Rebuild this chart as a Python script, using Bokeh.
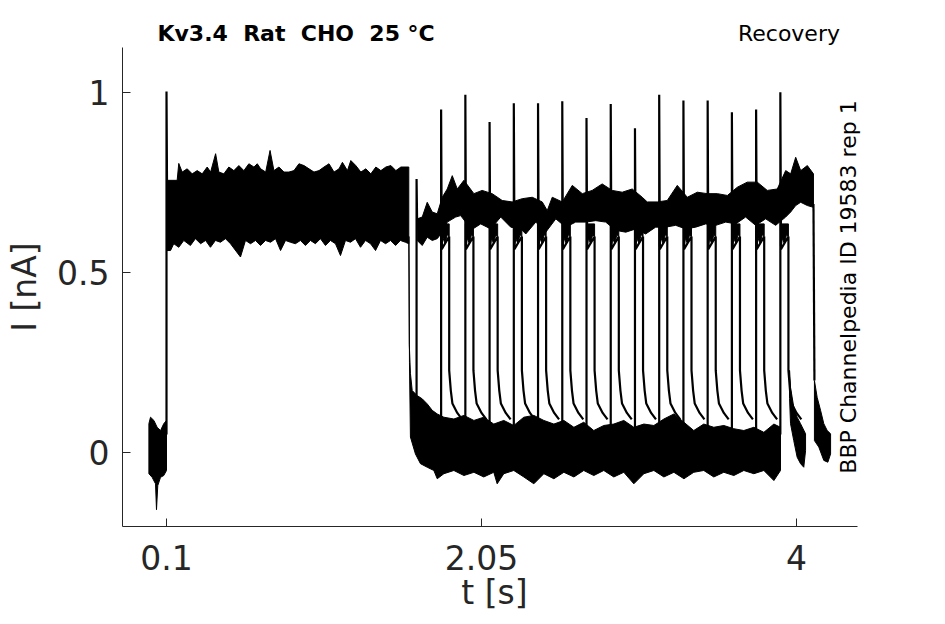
from math import pi
from bokeh.plotting import figure
from bokeh.layouts import column
from bokeh.models import (Range1d, FixedTicker, Label, ColumnDataSource,
                          CustomJSTickFormatter)
from bokeh.embed import file_html
from bokeh.resources import INLINE

# ---------------- data (t in s, I in nA) ----------------
x_ticks = [0.1, 2.05, 4.0]
y_ticks = [0.0, 0.5, 1.0]

title_text = "Kv3.4 \u00a0Rat \u00a0CHO \u00a025 °C"
protocol_text = "Recovery"
source_text = "BBP Channelpedia ID 19583 rep 1"

# holding current before the first pulse (noise envelope)
pre_t_top = [-0.009, 0.001, 0.022, 0.042, 0.063, 0.083, 0.100]
pre_i_top = [0.080, 0.098, 0.089, 0.070, 0.061, 0.080, 0.089]
pre_t_bot = [-0.009, 0.011, 0.032, 0.038, 0.046, 0.063, 0.083, 0.100]
pre_i_bot = [-0.059, -0.069, -0.087, -0.159, -0.092, -0.069, -0.064, -0.050]

# first pulse (0.1 - 1.6 s) noise envelope
p1_t_top = [0.100, 0.166, 0.176, 0.197, 0.228, 0.259, 0.290, 0.321, 0.352, 0.373,
            0.404, 0.424, 0.455, 0.486, 0.517, 0.548, 0.579, 0.610, 0.641, 0.662,
            0.683, 0.714, 0.741, 0.765, 0.796, 0.827, 0.858, 0.889, 0.920, 0.951,
            0.982, 1.013, 1.044, 1.075, 1.106, 1.137, 1.168, 1.189, 1.220, 1.241,
            1.272, 1.303, 1.334, 1.365, 1.396, 1.427, 1.458, 1.489, 1.520, 1.551,
            1.600]
p1_i_top = [0.756, 0.756, 0.803, 0.779, 0.788, 0.774, 0.783, 0.774, 0.793, 0.779,
            0.830, 0.779, 0.774, 0.793, 0.783, 0.797, 0.783, 0.802, 0.793, 0.802,
            0.788, 0.779, 0.839, 0.783, 0.793, 0.779, 0.779, 0.783, 0.802, 0.797,
            0.788, 0.779, 0.783, 0.793, 0.802, 0.779, 0.788, 0.806, 0.783, 0.811,
            0.797, 0.779, 0.788, 0.774, 0.793, 0.783, 0.793, 0.797, 0.783, 0.793,
            0.793]
p1_t_bot = [0.100, 0.125, 0.145, 0.176, 0.207, 0.248, 0.279, 0.311, 0.342, 0.372,
            0.403, 0.434, 0.465, 0.496, 0.558, 0.589, 0.620, 0.651, 0.682, 0.713,
            0.744, 0.775, 0.806, 0.837, 0.867, 0.898, 0.929, 0.960, 0.991, 1.022,
            1.053, 1.084, 1.115, 1.146, 1.177, 1.208, 1.239, 1.270, 1.301, 1.332,
            1.363, 1.394, 1.425, 1.456, 1.487, 1.518, 1.548, 1.579, 1.600]
p1_i_bot = [0.561, 0.561, 0.580, 0.570, 0.589, 0.575, 0.594, 0.580, 0.589, 0.570,
            0.589, 0.584, 0.594, 0.580, 0.543, 0.589, 0.580, 0.589, 0.575, 0.589,
            0.584, 0.594, 0.561, 0.589, 0.584, 0.580, 0.589, 0.575, 0.589, 0.580,
            0.594, 0.575, 0.589, 0.580, 0.547, 0.589, 0.584, 0.594, 0.570, 0.589,
            0.580, 0.561, 0.589, 0.580, 0.589, 0.575, 0.589, 0.584, 0.580]

# sustained second pulse (1.65 - 4.1 s) noise envelope
up_t_top = [1.652, 1.683, 1.714, 1.745, 1.776, 1.807, 1.838, 1.869, 1.900, 1.941,
            2.003, 2.054, 2.116, 2.178, 2.240, 2.302, 2.364, 2.426, 2.457, 2.488,
            2.550, 2.612, 2.674, 2.735, 2.797, 2.859, 2.921, 2.983, 3.045, 3.076,
            3.138, 3.200, 3.262, 3.324, 3.386, 3.448, 3.510, 3.572, 3.634, 3.695,
            3.757, 3.819, 3.881, 3.933, 3.964, 3.995, 4.026, 4.067, 4.105]
up_i_top = [0.649, 0.654, 0.695, 0.668, 0.663, 0.709, 0.732, 0.769, 0.732, 0.756,
            0.719, 0.728, 0.719, 0.700, 0.696, 0.705, 0.709, 0.696, 0.672, 0.709,
            0.696, 0.742, 0.719, 0.728, 0.746, 0.728, 0.723, 0.732, 0.709, 0.696,
            0.696, 0.700, 0.742, 0.709, 0.723, 0.719, 0.719, 0.714, 0.737, 0.751,
            0.751, 0.728, 0.732, 0.783, 0.774, 0.820, 0.783, 0.797, 0.774]
up_t_bot = [1.652, 1.683, 1.714, 1.745, 1.776, 1.807, 1.838, 1.890, 1.921, 1.952,
            1.983, 2.045, 2.107, 2.169, 2.231, 2.293, 2.324, 2.386, 2.448, 2.510,
            2.571, 2.633, 2.695, 2.757, 2.819, 2.881, 2.943, 3.005, 3.066, 3.128,
            3.190, 3.252, 3.314, 3.376, 3.438, 3.500, 3.562, 3.624, 3.685, 3.747,
            3.809, 3.871, 3.933, 3.964, 3.995, 4.026, 4.067, 4.105]
up_i_bot = [0.589, 0.575, 0.598, 0.589, 0.594, 0.612, 0.640, 0.654, 0.658, 0.640,
            0.617, 0.635, 0.621, 0.654, 0.626, 0.621, 0.607, 0.640, 0.612, 0.649,
            0.626, 0.640, 0.640, 0.644, 0.640, 0.617, 0.612, 0.621, 0.607, 0.626,
            0.626, 0.631, 0.621, 0.626, 0.635, 0.631, 0.640, 0.635, 0.654, 0.631,
            0.649, 0.631, 0.654, 0.668, 0.686, 0.695, 0.686, 0.681]

# recovery interval at holding potential (1.6 - 3.9 s) noise envelope
lo_t_top = [1.600, 1.603, 1.610, 1.621, 1.652, 1.683, 1.714, 1.745, 1.776, 1.817,
            1.879, 1.941, 2.003, 2.064, 2.126, 2.188, 2.250, 2.312, 2.374, 2.436,
            2.498, 2.560, 2.622, 2.683, 2.745, 2.807, 2.869, 2.931, 2.993, 3.055,
            3.117, 3.179, 3.241, 3.303, 3.364, 3.426, 3.488, 3.550, 3.612, 3.674,
            3.736, 3.798, 3.860, 3.901]
lo_i_top = [0.600, 0.300, 0.220, 0.172, 0.158, 0.149, 0.135, 0.117, 0.107, 0.098,
            0.093, 0.103, 0.089, 0.098, 0.079, 0.089, 0.075, 0.098, 0.103, 0.089,
            0.079, 0.089, 0.070, 0.084, 0.061, 0.075, 0.079, 0.089, 0.070, 0.079,
            0.075, 0.093, 0.107, 0.084, 0.061, 0.079, 0.070, 0.075, 0.066, 0.061,
            0.070, 0.056, 0.079, 0.070]
lo_t_bot = [1.601, 1.604, 1.610, 1.641, 1.672, 1.714, 1.755, 1.776, 1.817, 1.879,
            1.941, 2.003, 2.064, 2.126, 2.147, 2.188, 2.250, 2.312, 2.374, 2.436,
            2.498, 2.560, 2.622, 2.683, 2.745, 2.807, 2.869, 2.931, 2.993, 3.055,
            3.117, 3.179, 3.241, 3.303, 3.364, 3.426, 3.488, 3.550, 3.612, 3.674,
            3.736, 3.798, 3.860, 3.901]
lo_i_bot = [0.600, 0.250, 0.043, -0.004, -0.031, -0.041, -0.050, -0.073, -0.059, -0.050,
            -0.064, -0.055, -0.068, -0.055, -0.087, -0.059, -0.050, -0.068, -0.087, -0.059,
            -0.073, -0.055, -0.068, -0.050, -0.064, -0.050, -0.068, -0.055, -0.087, -0.059,
            -0.050, -0.068, -0.055, -0.073, -0.055, -0.050, -0.068, -0.055, -0.064, -0.050,
            -0.059, -0.050, -0.078, -0.050]

# tail of the last test pulse
last_t_top = [3.957, 3.963, 3.983, 4.004, 4.025, 4.056]
last_i_top = [0.228, 0.181, 0.126, 0.098, 0.080, 0.052]
last_t_bot = [3.957, 3.963, 3.983, 4.004, 4.025, 4.045, 4.056]
last_i_bot = [0.150, 0.080, 0.033, -0.013, -0.031, -0.041, 0.005]

# tail after the sustained pulse ends
end_t_top = [4.111, 4.128, 4.149, 4.169, 4.190, 4.211]
end_i_top = [0.200, 0.153, 0.117, 0.080, 0.061, 0.052]
end_t_bot = [4.111, 4.138, 4.169, 4.194, 4.211]
end_i_bot = [0.033, 0.015, -0.022, -0.027, -0.004]

# capacitive peaks
first_peak_t = 0.100
first_peak_i = 1.003
sustained_on_t = 1.648
sustained_on_peak = 0.760
sustained_off_t = 4.105
sustained_off_i = [0.690, 0.200]

# short test pulses: onset and peak
pulse_t = [1.80, 1.95, 2.10, 2.25, 2.40, 2.55, 2.70, 2.85, 3.00, 3.15, 3.30, 3.45, 3.60, 3.75, 3.90]
pulse_peak = [0.953, 0.994, 0.918, 0.970, 0.970, 0.976, 0.929, 0.968, 0.901, 0.994,
              0.978, 0.978, 0.945, 0.953, 1.001]
pulse_width = 0.05
plateau_dt = [0.0, 0.004, 0.012, 0.025, 0.038, 0.050]
plateau_lo = [0.575, 0.565, 0.595, 0.580, 0.605, 0.600]
plateau_hi = 0.635
tail_dt = [0.0, 0.010, 0.020, 0.050, 0.080]
tail_i = [0.228, 0.172, 0.136, 0.110, 0.092]
rest_i = 0.05

# ---------------- layout ----------------
X0, X1 = -0.1724, 4.3776      # time span covered by the x axis
X_FRAME_END = 4.4333          # plot area reaches a little further right (side note)
Y0, Y1 = -0.2056, 1.125       # current span covered by the y axis
HEAD_TOP = 1.2556             # current value at the top edge of the header strip

xr = Range1d(X0, X_FRAME_END)

# header strip holding the title line (same horizontal mapping as the plot)
hdr = figure(width=929, height=47, x_range=xr, y_range=Range1d(Y1, HEAD_TOP),
             x_axis_type=None, y_axis_type=None,
             output_backend="svg", toolbar_location=None,
             min_border_left=122, min_border_right=63, min_border_top=0, min_border_bottom=0)
hdr.outline_line_color = None
hdr.grid.visible = False
hdr.add_layout(Label(x=0.044, y=1.165, text=title_text, text_font="DejaVu Sans",
                     text_font_size="22px", text_font_style="bold", text_color="black",
                     text_align="left", text_baseline="alphabetic"))
hdr.add_layout(Label(x=4.269, y=1.165, text=protocol_text, text_font="DejaVu Sans",
                     text_font_size="22px", text_color="black",
                     text_align="right", text_baseline="alphabetic"))

p = figure(width=929, height=575, x_range=xr, y_range=Range1d(Y0, Y1),
           output_backend="svg", toolbar_location=None,
           min_border_left=122, min_border_right=63,
           min_border_top=0, min_border_bottom=96)
p.outline_line_color = None
p.grid.visible = False
p.background_fill_color = "white"
p.border_fill_color = "white"


def band(t_top, i_top, t_bot, i_bot):
    return list(t_top) + list(reversed(t_bot)), list(i_top) + list(reversed(i_bot))


bands = [band(pre_t_top, pre_i_top, pre_t_bot, pre_i_bot),
         band(p1_t_top, p1_i_top, p1_t_bot, p1_i_bot),
         band(up_t_top, up_i_top, up_t_bot, up_i_bot),
         band(lo_t_top, lo_i_top, lo_t_bot, lo_i_bot),
         band(last_t_top, last_i_top, last_t_bot, last_i_bot),
         band(end_t_top, end_i_top, end_t_bot, end_i_bot)]
for t0 in pulse_t:
    bands.append(band([t0, t0 + pulse_width], [plateau_hi, plateau_hi],
                      [t0 + d for d in plateau_dt], plateau_lo))
band_src = ColumnDataSource(dict(xs=[b[0] for b in bands], ys=[b[1] for b in bands]))
p.patches("xs", "ys", source=band_src, fill_color="black", line_color="black", line_width=1)

# trace lines: peaks, test pulses and their tails
lxs, lys = [], []
lxs.append([first_peak_t, first_peak_t, first_peak_t + 0.003])
lys.append([rest_i, first_peak_i, p1_i_top[0]])
lxs.append([sustained_on_t, sustained_on_t, up_t_top[0]])
lys.append([lo_i_top[4], sustained_on_peak, up_i_bot[0] + 0.03])
lxs.append([sustained_off_t, sustained_off_t + 0.006])
lys.append(sustained_off_i)
for t0, pk in zip(pulse_t, pulse_peak):
    xs = [t0, t0, t0 + plateau_dt[1], t0 + pulse_width] + [t0 + pulse_width + d for d in tail_dt]
    ys = [rest_i, pk, plateau_lo[1], plateau_lo[-1]] + list(tail_i)
    lxs.append(xs)
    lys.append(ys)
p.multi_line(lxs, lys, line_color="black", line_width=2.2)

# axes (MATLAB-like: inward ticks, no box)
fmt = CustomJSTickFormatter(code="return tick.toString();")
for ax in (p.xaxis[0], p.yaxis[0]):
    ax.axis_line_color = "#262626"
    ax.major_tick_line_color = "#262626"
    ax.major_tick_in = 8
    ax.major_tick_out = 0
    ax.minor_tick_line_color = None
    ax.major_label_text_font = "DejaVu Sans"
    ax.major_label_text_font_size = "33px"
    ax.major_label_text_color = "#262626"
    ax.axis_label_text_font = "DejaVu Sans"
    ax.axis_label_text_font_size = "33px"
    ax.axis_label_text_font_style = "normal"
    ax.axis_label_text_color = "#262626"
    ax.formatter = fmt
p.xaxis.ticker = FixedTicker(ticks=x_ticks)
p.yaxis.ticker = FixedTicker(ticks=y_ticks)
p.xaxis.bounds = (X0, X1)
p.xaxis.axis_label = "t [s]"
p.yaxis.axis_label = "I [nA]"
p.xaxis.major_label_standoff = 18
p.yaxis.major_label_standoff = 13
p.xaxis.axis_label_standoff = 0
p.yaxis.axis_label_standoff = 10

# right-hand vertical source note
p.add_layout(Label(x=4.322, y=0.4597, text=source_text, text_font="DejaVu Sans",
                   text_font_size="22px", text_color="black", angle=pi / 2,
                   text_align="center", text_baseline="alphabetic"))

open("out.html", "w").write(file_html(column(hdr, p, spacing=0), INLINE))
